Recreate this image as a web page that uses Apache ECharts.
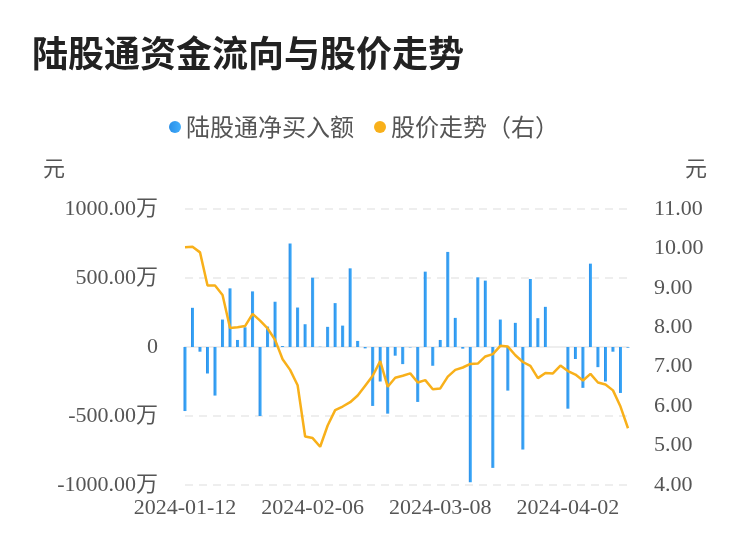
<!DOCTYPE html>
<html>
<head>
<meta charset="utf-8">
<script src="https://cdn.jsdelivr.net/npm/echarts@6/dist/echarts.min.js"></script>
<style>html,body{margin:0;padding:0;background:#fff;}#c{width:750px;height:558px;}</style>
</head>
<body>
<div id="c"></div>
<script>
var dates = [
 '2024-01-12','2024-01-15','2024-01-16','2024-01-17','2024-01-18','2024-01-19',
 '2024-01-22','2024-01-23','2024-01-24','2024-01-25','2024-01-26',
 '2024-01-29','2024-01-30','2024-01-31','2024-02-01','2024-02-02',
 '2024-02-05','2024-02-06','2024-02-07','2024-02-08',
 '2024-02-19','2024-02-20','2024-02-21','2024-02-22','2024-02-23',
 '2024-02-26','2024-02-27','2024-02-28','2024-02-29','2024-03-01',
 '2024-03-04','2024-03-05','2024-03-06','2024-03-07','2024-03-08',
 '2024-03-11','2024-03-12','2024-03-13','2024-03-14','2024-03-15',
 '2024-03-18','2024-03-19','2024-03-20','2024-03-21','2024-03-22',
 '2024-03-25','2024-03-26','2024-03-27','2024-03-28','2024-03-29',
 '2024-04-01','2024-04-02','2024-04-03',
 '2024-04-08','2024-04-09','2024-04-10','2024-04-11','2024-04-12',
 '2024-04-15','2024-04-16'
];
// 陆股通净买入额 (万元)
var netBuy = [
 -464, 284, -34, -192, -352, 199, 425, 51, 143, 403,
 -500, 148, 328, 7, 750, 286, 165, 502, 2, 146,
 318, 155, 570, 44, -10, -427, -250, -483, -63, -124,
 -3, -398, 546, -136, 51, 689, 211, -12, -980, 505,
 481, -876, 199, -316, 175, -743, 493, 209, 291, 0,
 0, -447, -87, -296, 604, -146, -250, -34, -333, -5
];
// 股价 (元)
var price = [
 10.03, 10.04, 9.90, 9.06, 9.06, 8.82, 7.98, 8.00, 8.03, 8.34,
 8.17, 7.97, 7.68, 7.19, 6.92, 6.53, 5.23, 5.19, 4.97, 5.51,
 5.90, 5.99, 6.10, 6.27, 6.52, 6.77, 7.14, 6.49, 6.72, 6.77,
 6.83, 6.60, 6.66, 6.43, 6.45, 6.75, 6.92, 6.98, 7.07, 7.08,
 7.26, 7.32, 7.53, 7.51, 7.29, 7.12, 7.02, 6.71, 6.84, 6.83,
 7.03, 6.89, 6.80, 6.65, 6.82, 6.60, 6.55, 6.40, 5.99, 5.44
];
var leftTicks = {min: -1000, max: 1000, interval: 500};
var rightTicks = {min: 4, max: 11, interval: 1};

var chart = echarts.init(document.getElementById('c'), null, {renderer: 'canvas'});
var serif = '"Liberation Serif", "Noto Sans CJK SC", serif';
var sans = '"Noto Sans CJK SC", "Noto Sans", sans-serif';
chart.setOption({
  animation: false,
  backgroundColor: '#fff',
  title: {
    text: '陆股通资金流向与股价走势',
    left: 27, top: 30,
    textStyle: {fontSize: 36, fontWeight: 'bold', color: '#222', fontFamily: sans}
  },
  legend: {
    left: 164, top: 110,
    icon: 'circle', itemWidth: 12, itemHeight: 12, itemGap: 20,
    textStyle: {fontSize: 24, color: '#555', fontFamily: sans},
    data: ['陆股通净买入额', '股价走势（右）']
  },
  graphic: [
    {type: 'text', left: 43, top: 157, style: {text: '元', fontSize: 22, fill: '#555', fontFamily: sans}},
    {type: 'text', left: 685, top: 157, style: {text: '元', fontSize: 22, fill: '#555', fontFamily: sans}}
  ],
  grid: {left: 185, right: 122, top: 209, bottom: 73, containLabel: false},
  xAxis: {
    type: 'category',
    data: dates,
    boundaryGap: false,
    axisLine: {show: true, lineStyle: {color: '#eeeeee', width: 2}},
    axisTick: {show: false},
    axisLabel: {interval: 16, margin: 12, fontSize: 22, color: '#555', fontFamily: serif}
  },
  yAxis: [
    {
      type: 'value',
      min: leftTicks.min, max: leftTicks.max, interval: leftTicks.interval,
      axisLine: {show: false}, axisTick: {show: false},
      splitLine: {show: true, lineStyle: {color: '#eeeeee', type: [8, 6], width: 2}},
      axisLabel: {
        margin: 27, fontSize: 22, color: '#555', fontFamily: serif,
        formatter: function (v) { return v === 0 ? '0' : v.toFixed(2) + '万'; }
      }
    },
    {
      type: 'value',
      min: rightTicks.min, max: rightTicks.max, interval: rightTicks.interval,
      axisLine: {show: false}, axisTick: {show: false},
      splitLine: {show: false},
      axisLabel: {
        margin: 26, fontSize: 22, color: '#555', fontFamily: serif,
        formatter: function (v) { return v.toFixed(2); }
      }
    }
  ],
  series: [
    {
      name: '陆股通净买入额',
      type: 'bar',
      data: netBuy,
      barWidth: 3,
      itemStyle: {
        color: new echarts.graphic.LinearGradient(0, 0, 1, 0, [
          {offset: 0, color: '#2a8fe8'}, {offset: 1, color: '#42aefc'}
        ])
      }
    },
    {
      name: '股价走势（右）',
      type: 'line',
      yAxisIndex: 1,
      data: price,
      symbol: 'none',
      lineStyle: {color: '#f8b01a', width: 2.5},
      itemStyle: {color: '#f8b01a'}
    }
  ]
});
</script>
</body>
</html>
